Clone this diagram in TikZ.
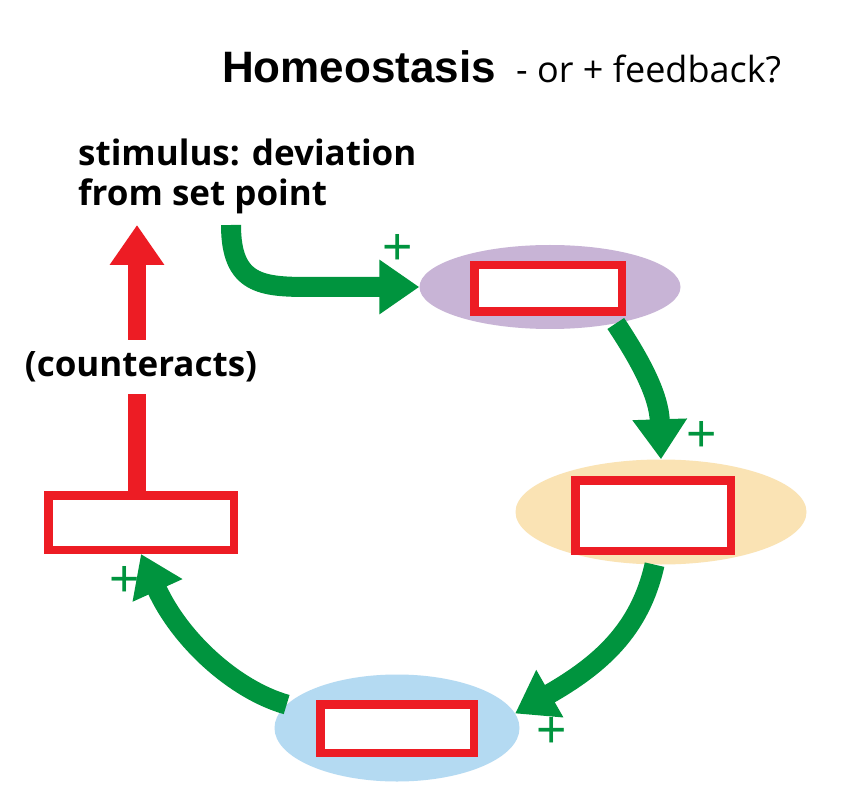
\documentclass[tikz,border=0pt]{standalone}
\usepackage{fontspec}
\setmainfont{Open Sans}
\newfontfamily\titlefont{Liberation Sans}
\usetikzlibrary{arrows.meta,shapes.geometric}
\definecolor{gr}{RGB}{0,148,62}
\definecolor{rd}{RGB}{237,28,36}
\definecolor{pu}{RGB}{200,180,214}
\definecolor{orr}{RGB}{250,227,180}
\definecolor{bl}{RGB}{180,218,242}
\begin{document}
\begin{tikzpicture}[x=1pt,y=-1pt,
  blob/.style={ellipse, inner sep=0pt, draw=none},
  slot/.style={draw=rd, line width=8.5pt, fill=white, inner sep=0pt},
  garrow/.style={draw=gr, line width=20pt, -{Triangle[width=52pt,length=40pt]}},
  rarrow/.style={draw=rd, line width=18pt, -{Triangle[width=52pt,length=40pt]}},
  plus/.style={text=gr, font=\titlefont\fontsize{52}{52}\selectfont, inner sep=0pt},
  lbl/.style={font=\bfseries\fontsize{35}{40}\selectfont, inner sep=0pt}
]
\useasboundingbox (0,0) rectangle (843,799);
\fill[white] (0,0) rectangle (843,799);
% title
\node[anchor=base west, inner sep=0pt, font=\titlefont\bfseries\fontsize{44}{44}\selectfont] (title) at (222,83) {Homeostasis};
\node[anchor=base west, inner sep=0pt, font=\fontsize{36}{36}\selectfont] (q) at (516,83) {- or + feedback?};
% stimulus
\node[lbl, anchor=north west, align=left] (stim) at (78,139) {stimulus: deviation\\from set point};
% ellipses
\node[blob, fill=pu, minimum width=261pt, minimum height=84pt] (p) at (550,287) {};
\node[blob, fill=orr, minimum width=291pt, minimum height=105pt] (o) at (661,512) {};
\node[blob, fill=bl, minimum width=245pt, minimum height=107pt] (b) at (397,728) {};
% boxes
\node[slot, minimum width=147.5pt, minimum height=46.5pt] (pb) at (548,288.5) {};
\node[slot, minimum width=155.5pt, minimum height=70.5pt] (ob) at (653,515.5) {};
\node[slot, minimum width=153.5pt, minimum height=48.5pt] (bb) at (397,728.5) {};
\node[slot, minimum width=185.5pt, minimum height=54.5pt] (lb) at (141,522.5) {};
% green arrows
\coordinate (s1) at (231,225);
\draw[garrow] (s1) .. controls (231,285) and (262,287) .. (310,287) -- (p.west);
\draw[garrow] (p.331) .. controls (640,360) and (659,395) .. (o.north);
\draw[garrow] (o.263) .. controls (640,630) and (600,665) .. (b.7);
\draw[garrow] (b.168) .. controls (235,690) and (180,640) .. (lb.south);
% red arrow
\coordinate (rt) at (137,225);
\draw[rarrow] (rt |- lb.north) -- (rt);
\node[lbl, fill=white, minimum height=53pt, inner xsep=3pt] (ct) at (141,367) {(counteracts)};
% plus signs
\node[plus] (p1) at (398,249) {+};
\node[plus] (p2) at (702,436) {+};
\node[plus] (p3) at (552,732) {+};
\node[plus] (p4) at (125,581) {+};
\end{tikzpicture}
\end{document}
